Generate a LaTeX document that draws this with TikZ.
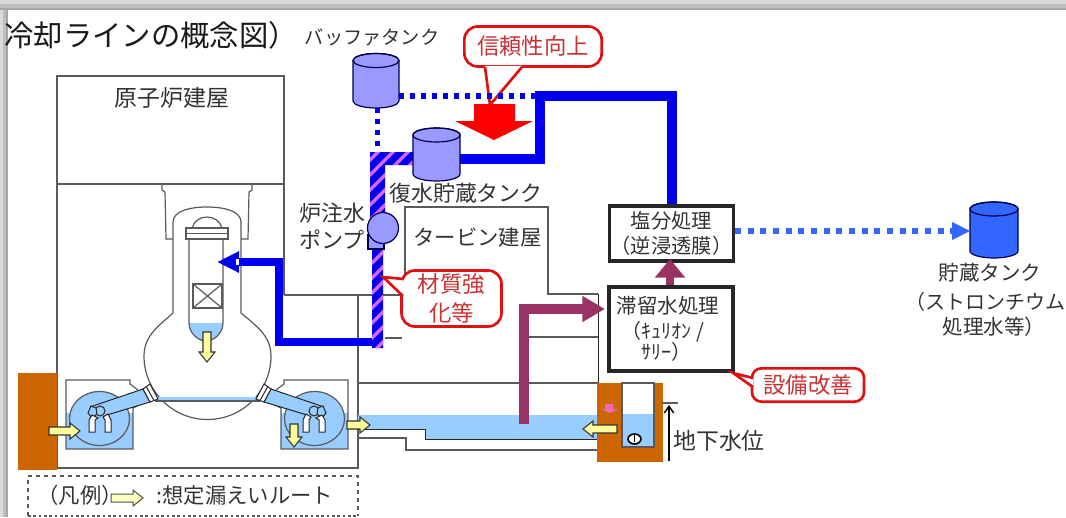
\documentclass[tikz,border=0pt]{standalone}
\usepackage{fontspec}
\setmainfont{Noto Sans CJK JP}
\usetikzlibrary{arrows.meta}

\definecolor{pipeblue}{RGB}{0,0,238}
\definecolor{stripepink}{RGB}{214,102,255}
\definecolor{tankviolet}{RGB}{153,153,255}
\definecolor{storeblue}{RGB}{51,102,255}
\definecolor{waterblue}{RGB}{153,204,255}
\definecolor{earthbrown}{RGB}{204,102,0}
\definecolor{wastepurple}{RGB}{153,51,102}
\definecolor{calloutred}{RGB}{224,16,16}
\definecolor{calloutink}{RGB}{200,50,50}
\definecolor{leakyellow}{RGB}{255,255,153}
\definecolor{wallgrey}{RGB}{90,90,90}

\tikzset{every picture/.style={line width=0.75pt}}
\tikzset{
  wall/.style={color=wallgrey,line width=0.9pt},
  blackwall/.style={color=black!85,line width=0.75pt},
  label/.style={inner sep=0.75pt,text=black!80,font=\fontsize{16}{21}\selectfont,align=center},
  tankbody/.style={draw=black!70!blue,line width=0.9pt},
  bluepipe/.style={color=pipeblue,line width=6.5pt},
  dotpipe/.style={color=pipeblue,line width=4pt,dash pattern=on 4pt off 4.25pt},
  wastepipe/.style={color=wastepurple,line width=7.5pt},
  procbox/.style={draw=black!85,fill=white,line width=2.6pt,inner sep=0pt,text=black!80,align=center},
  callbox/.style={draw=calloutred,fill=white,line width=2pt,rounded corners=10pt,inner sep=0pt,text=calloutink,align=center,font=\fontsize{16.8}{22}\selectfont},
  calltail/.style={draw=calloutred,line width=2pt},
  leak/.style={draw=black!80,fill=leakyellow,line width=0.8pt},
}

\newcommand{\drawtank}[6]{%
  \draw [tankbody,fill=#6] (#2-#4,#3) -- (#2-#4,#5) arc [start angle=180,end angle=0,x radius=#4,y radius=7] -- (#2+#4,#3) arc [start angle=0,end angle=-180,x radius=#4,y radius=7] -- cycle ;
  \draw [tankbody] (#2,#3) ellipse [x radius=#4,y radius=7] ;
  \coordinate (#1) at (#2,#3) ;
}
\newcommand{\leakarrow}[5][leak]{%
  \draw [#1,shift={(#2,#3)},rotate=#4] (0,-4) -- (#5-10,-4) -- (#5-10,-8) -- (#5,0) -- (#5-10,8) -- (#5-10,4) -- (0,4) -- cycle ;
}
\newcommand{\drawtorus}{%
  \fill [color=waterblue] (66,413) rectangle (133,449) ;
  \draw [wall] (133,408) -- (133,449) -- (66,449) -- (66,380) -- (130,380) -- (130,384) -- (138,390) ;
  \draw [wall] (133,408) -- (143,403) ;
  \draw [wall,fill=waterblue] (99.5,418.5) ellipse [x radius=30,y radius=27] ;
  \draw [blackwall,fill=waterblue] (90,407) -- (143,389) -- (150,402) -- (107,415) ;
  \draw [blackwall,fill=white] (143,389) -- (150,384) -- (158,399) -- (150,402) -- cycle ;
  \draw [blackwall] (146.5,387) -- (154,400.5) ;
  \draw [blackwall,fill=waterblue] (100,411) circle [radius=5] ;
  \draw [blackwall,fill=waterblue] (91,406) -- (96,408) -- (97,414) -- (92,418) -- (88,413) -- cycle ;
  \draw [blackwall,fill=white] (89,420) -- (92,415) -- (98,418) -- (95,420) -- (95,432) -- (89,432) -- cycle ;
  \draw [blackwall,fill=white] (105,420) -- (103,417) -- (108,414) -- (111,420) -- (111,432) -- (105,432) -- cycle ;
}

\begin{document}
\begin{tikzpicture}[x=0.75pt,y=0.75pt,yscale=-1,xscale=1]
\useasboundingbox (0,0) rectangle (1066,517);

%Screen edges
\fill [color=black!14] (0,0) rectangle (1066,4) ;
\fill [color=black!25] (0,4) rectangle (1066,8) ;
\fill [color=black!35] (0,8) rectangle (1066,10) ;
\fill [color=black!14] (0,10) rectangle (3,517) ;
\fill [color=black!25] (3,10) rectangle (6,517) ;
\fill [color=black!35] (6,10) rectangle (8,517) ;

%Building outlines
\draw [wall] (284,295) -- (284,76) -- (57,76) -- (57,468) -- (358,468) -- (358,295) ;
\draw [wall] (57,184) -- (284,184) ;
\draw [wall] (284,295) -- (405,295) -- (405,207) -- (548,207) -- (548,294) -- (598,294) ;
\draw [blackwall] (598,294) -- (598,383) ;
\draw [wall] (358,383) -- (598,383) ;
\draw [wall] (385,338) -- (402,338) ;
\draw [wall] (528,337) -- (598,337) ;

%Water along the trench
\fill [color=waterblue] (358,415) rectangle (597,429) ;
\fill [color=waterblue] (425,429) rectangle (597,439) ;
\draw [blackwall] (358,429) -- (425,429) -- (425,439) -- (597,439) ;
\draw [wall] (358,438) -- (406,438) -- (406,450) -- (597,450) ;

%Earth walls and the pit
\fill [color=earthbrown] (18,373) rectangle (57,470) ;
\fill [color=earthbrown] (597,383) rectangle (663,462) ;
\fill [color=white] (622,383) rectangle (654,414) ;
\fill [color=waterblue] (622,414) rectangle (654,447) ;
\draw [wall] (622,383) -- (622,447) -- (654,447) -- (654,383) -- cycle ;
\draw [color=black,line width=1.2pt,fill=white] (634.5,439) ellipse [x radius=6.5,y radius=5] ;
\draw [color=black,line width=0.6pt] (634.5,435) -- (634.5,442) ;
\fill [color=magenta!60] (605,404) -- (613,404) -- (613,409) -- (618,409) -- (610,413) -- (601,409) -- (605,409) -- cycle ;

%Shield wall
\draw [wall] (162,184) -- (162,190) -- (165,192) -- (166,239) -- (173,239) ;
\draw [wall] (252,184) -- (252,190) -- (249,192) -- (248,239) -- (241,239) ;

%Containment vessel
\draw [wall,fill=white] (173,313) -- (173,222) .. controls (173,211) and (190,207) .. (207,207) .. controls (224,207) and (241,211) .. (241,222) -- (241,313) .. controls (255,325) and (271,335) .. (271,356) arc [start angle=0,end angle=180,x radius=63.5,y radius=63.5] .. controls (144,335) and (160,325) .. (173,313) -- cycle ;
\fill [color=waterblue] (150,397) rectangle (265,401) ;
\draw [wall] (155,401) -- (260,401) ;

%Reactor pressure vessel
\fill [color=waterblue] (189,323) .. controls (189,333) and (198,341) .. (206,341) .. controls (214,341) and (223,333) .. (223,323) -- cycle ;
\draw [wall] (189,239) -- (189,323) .. controls (189,333) and (198,341) .. (206,341) .. controls (214,341) and (223,333) .. (223,323) -- (223,239) ;
\draw [wall] (192,228) .. controls (194,221) and (200,217) .. (207,217) .. controls (214,217) and (220,221) .. (222,228) ;
\draw [wall,fill=white] (186,228) rectangle (228,239) ;
\draw [wall] (186,233.5) -- (228,233.5) ;
\draw [wall,fill=white] (193,284) rectangle (222,308) ;
\draw [wall] (193,284) -- (222,308) ;
\draw [wall] (222,284) -- (193,308) ;
\leakarrow{207}{332}{90}{30}

%Pits with the torus, the second one mirrored
\drawtorus
\begin{scope}[shift={(414,0)},xscale=-1]
\drawtorus
\end{scope}

% Leak arrows
\leakarrow{49}{431}{0}{31}
\leakarrow{294}{424}{90}{23}
\leakarrow{347}{425}{0}{23}
\leakarrow{617}{429}{180}{34}

%Buffer and storage tanks
\coordinate (bufferout) at (399,96) ;
\coordinate (bufferdown) at (377.5,108) ;
\coordinate (condin) at (460,159) ;
\coordinate (salttop) at (672,205) ;
\coordinate (saltright) at (735,231) ;
\coordinate (storein) at (970,231) ;
\coordinate (linkjoin) at (540,96) ;
\coordinate (inject) at (378,342) ;
\coordinate (injecttip) at (217,262) ;

%Red callout
\node (calltrust) at (533,46.5) [callbox,minimum width=103pt,minimum height=30pt] {信頼性向上};
\coordinate (trusttip) at (490,105) ;
\fill [color=white] (485,66) -- (trusttip) -- (522,66) -- cycle ;
\draw [calltail] (485,67) -- (trusttip) -- (522,67) ;

%Dotted lines from the buffer tank
\draw [dotpipe] (bufferout) -- (linkjoin) ;
\draw [dotpipe] (bufferdown) -- (377.5,152) ;

%Large red arrow
\fill [color=red] (474,104) -- (515,104) -- (515,121) -- (533,121) -- (494,140) -- (455,121) -- (474,121) -- cycle ;

%Injection line
\draw [bluepipe,-{Triangle[length=16.5pt,width=15pt]}] (inject) -- (279,342) -- (279,262) -- (injecttip) ;
\fill [color=white] (236,259) rectangle (238.5,265) ;

%Striped line
\begin{scope}
\clip (370,152) -- (414,152) -- (414,165) -- (385,165) -- (385,215) -- (383,250) -- (383,348) -- (372,348) -- (372,250) -- (370,215) -- cycle ;
\fill [color=pipeblue] (360,145) rectangle (420,350) ;
\foreach \ystart in {155,170,...,440} {
  \draw [color=stripepink,line width=2.6pt] (360,\ystart) -- (430,\ystart-70) ;
}
\end{scope}

%Line from the reverse osmosis plant
\draw [bluepipe,line width=7pt] (condin) -- (540,159) -- (linkjoin) -- (672,96) -- (salttop) ;

\drawtank{buffertank}{376}{60.5}{23}{101}{tankviolet}
\drawtank{condtank}{436.5}{135}{23.5}{174}{tankviolet}
\drawtank{storetank}{994}{209}{24}{251}{storeblue}

%Pump
\draw [tankbody,fill=tankviolet] (368,235) rectangle (384,249) ;
\draw [tankbody,fill=tankviolet] (383,228) circle [radius=15.5] ;

% Process boxes
\node (saltbox) at (671.5,233.5) [procbox,minimum width=93pt,minimum height=41pt] {};
\node (waterbox) at (671,329) [procbox,minimum width=93pt,minimum height=63pt] {};
\node (salttext) at (671.5,233.5) [label,font=\fontsize{15.2}{18.5}\selectfont] {塩分処理\\（逆浸透膜）};
\node (watertitle) at (668,306) [label,font=\fontsize{15.4}{18}\selectfont] {滞留水処理};
\node (kurion) at (663,332) [label,font=\fontsize{15}{18}\selectfont] {（ｷｭﾘｵﾝ /};
\node (sarry) at (666,352) [label,font=\fontsize{15}{18}\selectfont] {ｻﾘｰ）};

%Waste water arrows
\draw [wastepipe,-{Triangle[length=17pt,width=18.5pt]}] (524,424) -- (524,309) -- (605,309) ;
\draw [wastepipe,line width=6.5pt,-{Triangle[length=14pt,width=22pt]}] (waterbox.north -| 670,0) -- (670,259) ;

%Treated water
\draw [color=storeblue,line width=4.5pt,dash pattern=on 4.5pt off 5pt] (saltright) -- (955,231) ;
\fill [color=storeblue] (952,222) -- (storein) -- (952,240) -- cycle ;

%Callouts
\node (callmaterial) at (451.5,298.5) [callbox,minimum width=75pt,minimum height=42pt] {材質強\\化等};
\coordinate (materialtip) at (383,277) ;
\fill [color=white] (403,279) -- (materialtip) -- (403,296) -- cycle ;
\draw [calltail] (403,279) -- (materialtip) -- (403,296) ;
\node (callplant) at (808,385) [callbox,minimum width=84pt,minimum height=25pt,rounded corners=7pt] {設備改善};
\coordinate (planttip) at (733,373) ;
\fill [color=white] (753,378) -- (planttip) -- (753,387) -- cycle ;
\draw [calltail] (753,378) -- (planttip) -- (753,387) ;

%Ground water level
\draw [color=black,line width=1.1pt,-{Straight Barb[length=5pt,width=7pt]}] (669,461) -- (669,405) ;
\draw [wall] (662,403) -- (678,403) ;

%Legend
\draw [wall,dashed,line width=1.1pt] (28,516) -- (28,476) -- (358,476) -- (358,516) ;
\draw [wall,dash pattern=on 2pt off 2pt] (28,516) -- (358,516) ;
\leakarrow[{draw=black!70,fill=leakyellow!60}]{111}{498}{0}{32}

% Text Node
\node (title) at (3,35) [label,anchor=west,font=\fontsize{22}{24}\selectfont,text=black!90] {冷却ラインの概念図）};
% Text Node
\node (lblbuffer) at (372,37) [label,font=\fontsize{14.4}{18}\selectfont] {バッファタンク};
% Text Node
\node (lblreactor) at (172,98) [label,font=\fontsize{17.2}{21}\selectfont] {原子炉建屋};
% Text Node
\node (lblpump) at (332,226.5) [label,font=\fontsize{16.5}{20.5}\selectfont] {炉注水\\ポンプ};
% Text Node
\node (lblcond) at (466,193) [label,font=\fontsize{16.4}{20}\selectfont] {復水貯蔵タンク};
% Text Node
\node (lblturbine) at (477.5,237) [label] {タービン建屋};
% Text Node
\node (lblstore) at (990,273) [label,font=\fontsize{15.4}{20}\selectfont] {貯蔵タンク};
% Text Node
\node (lblstrontium) at (985,302) [label,font=\fontsize{15}{20}\selectfont] {（ストロンチウム};
% Text Node
\node (lbltreated) at (994,327) [label,font=\fontsize{15.4}{20}\selectfont] {処理水等）};
% Text Node
\node (lblground) at (719,441) [label,font=\fontsize{17.2}{21}\selectfont] {地下水位};
% Text Node
\node (lbllegend) at (36,495) [label,anchor=west,font=\fontsize{16}{20}\selectfont] {（凡例）};
% Text Node
\node (lblroute) at (155,495) [label,anchor=west,font=\fontsize{16}{20}\selectfont] {:想定漏えいルート};

\end{tikzpicture}
\end{document}
